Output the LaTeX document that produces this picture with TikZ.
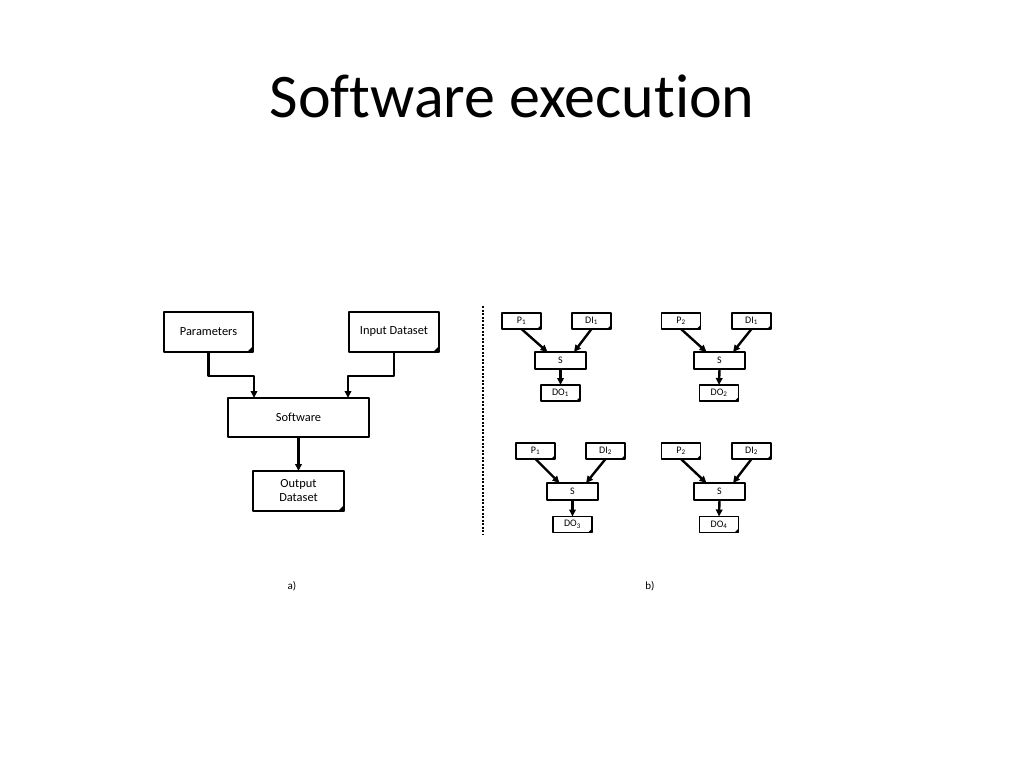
\documentclass[tikz,border=0pt]{standalone}
\usepackage{fontspec}
\setmainfont{Carlito}[Ligatures=NoCommon]
\usepackage{tikz}
\usetikzlibrary{arrows.meta}
\tikzset{
  every picture/.style={line join=round, >={Triangle[length=7pt,width=6.5pt]}},
  doc/.style={draw, line width=1.8pt, outer sep=0pt, inner sep=1pt,
    path picture={\fill (path picture bounding box.south east) -- ++(-#1,0) -- ++(#1,-#1) -- cycle;}},
  doc/.default=6,
  bigbox/.style={font=\fontsize{12.4}{14}\selectfont, align=center},
  smallbox/.style={font=\fontsize{10}{11}\selectfont},
  soft/.style={draw, line width=1.8pt, outer sep=0pt},
  conn/.style={line width=2.4pt, ->},
}

\begin{document}
\begin{tikzpicture}[x=1pt, y=-1pt]
\useasboundingbox (0,0) rectangle (1024,768);
\node[anchor=base, font=\fontsize{62}{70}\selectfont] (title) at (512,117) {Software execution};
% a) single run
\node[doc, bigbox, minimum width=89, minimum height=40] (par) at (208.5,332) {Parameters};
\node[doc, bigbox, minimum width=90, minimum height=40] (inp) at (394,332) {Input Dataset};
\node[soft, bigbox, minimum width=141, minimum height=39] (sw) at (298.5,417.5) {Software};
\node[doc, bigbox, minimum width=91, minimum height=40] (out) at (298.5,491) {Output\\Dataset};
\draw[conn] (par.south) -- ++(0,24) -| ([xshift=-44.5]sw.north);
\draw[conn] (inp.south) -- ++(0,24) -| ([xshift=49.5]sw.north);
\draw[conn] (sw.south) -- (out.north);
% separator
\draw[line width=1.8pt, dash pattern=on 2pt off 1.5pt] (483,306) -- (483,534);
% b) P1 + DI1
\node[doc=4, smallbox, minimum width=39, minimum height=16] (p1a) at (521.5,321) {P\textsubscript{1}};
\node[doc=4, smallbox, minimum width=39, minimum height=16] (di1a) at (591.5,321) {DI\textsubscript{1}};
\node[soft, smallbox, minimum width=51, minimum height=17] (sa) at (560.5,360.5) {S};
\node[doc=4, smallbox, minimum width=39, minimum height=16] (do1) at (560.5,393) {DO\textsubscript{1}};
\draw[conn] (p1a.south) -- ([xshift=-13]sa.north);
\draw[conn] (di1a.south) -- ([xshift=13.5]sa.north);
\draw[conn] (sa.south) -- (do1.north);
% b) P2 + DI1
\node[doc=4, smallbox, minimum width=39, minimum height=16] (p2b) at (681,321) {P\textsubscript{2}};
\node[doc=4, smallbox, minimum width=39, minimum height=16] (di1b) at (751.5,321) {DI\textsubscript{1}};
\node[soft, smallbox, minimum width=51, minimum height=17] (sb) at (719.5,360.5) {S};
\node[doc=4, smallbox, minimum width=39, minimum height=16] (do2) at (719,393) {DO\textsubscript{2}};
\draw[conn] (p2b.south) -- ([xshift=-13]sb.north);
\draw[conn] (di1b.south) -- ([xshift=13.5]sb.north);
\draw[conn] (sb.south) -- (do2.north);
% b) P1 + DI2
\node[doc=4, smallbox, minimum width=39, minimum height=16] (p1c) at (535.5,451) {P\textsubscript{1}};
\node[doc=4, smallbox, minimum width=39, minimum height=16] (di2c) at (605.5,451) {DI\textsubscript{2}};
\node[soft, smallbox, minimum width=51, minimum height=17] (sc) at (572.5,491.5) {S};
\node[doc=4, smallbox, minimum width=39, minimum height=16] (do3) at (572.5,524.5) {DO\textsubscript{3}};
\draw[conn] (p1c.south) -- ([xshift=-13]sc.north);
\draw[conn] (di2c.south) -- ([xshift=13.5]sc.north);
\draw[conn] (sc.south) -- (do3.north);
% b) P2 + DI2
\node[doc=4, smallbox, minimum width=39, minimum height=16] (p2d) at (681,451) {P\textsubscript{2}};
\node[doc=4, smallbox, minimum width=39, minimum height=16] (di2d) at (751.5,451) {DI\textsubscript{2}};
\node[soft, smallbox, minimum width=51, minimum height=17] (sd) at (719.5,491.5) {S};
\node[doc=4, smallbox, minimum width=39, minimum height=16] (do4) at (719,524.5) {DO\textsubscript{4}};
\draw[conn] (p2d.south) -- ([xshift=-13]sd.north);
\draw[conn] (di2d.south) -- ([xshift=13.5]sd.north);
\draw[conn] (sd.south) -- (do4.north);
% captions
\node[font=\fontsize{11}{13}\selectfont] (capa) at (292,586) {a)};
\node[font=\fontsize{11}{13}\selectfont] (capb) at (650,586) {b)};
\end{tikzpicture}
\end{document}
